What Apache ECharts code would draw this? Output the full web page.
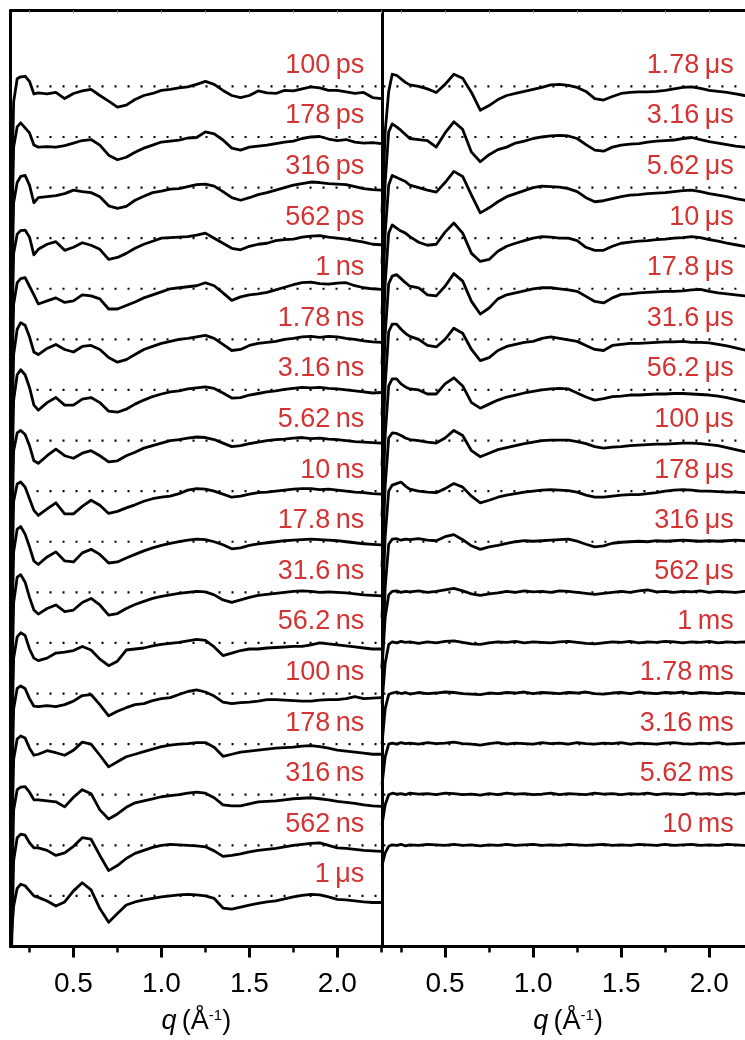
<!DOCTYPE html>
<html>
<head>
<meta charset="utf-8">
<script src="https://cdn.jsdelivr.net/npm/echarts@6/dist/echarts.min.js"></script>
<style>
  html, body { margin: 0; padding: 0; background: #fff; }
  #chart { width: 745px; height: 1040px; }
</style>
</head>
<body>
<div id="chart"></div>
<script>
// Scattering vector grid q (Å^-1) shared by every difference curve
const Q = [0.142, 0.16, 0.18, 0.20, 0.225, 0.25, 0.275,
  0.30, 0.35, 0.40, 0.45, 0.50, 0.55, 0.60, 0.65, 0.70, 0.75,
  0.80, 0.85, 0.90, 0.95, 1.00, 1.05, 1.10, 1.15, 1.20, 1.25,
  1.30, 1.35, 1.40, 1.45, 1.50, 1.55, 1.60, 1.65, 1.70, 1.75,
  1.80, 1.85, 1.90, 1.95, 2.00, 2.05, 2.10, 2.15, 2.20, 2.25];

// Time-delay labels, top to bottom
const LEFT_LABELS = ['100\u2009ps', '178\u2009ps', '316\u2009ps', '562\u2009ps', '1\u2009ns', '1.78\u2009ns',
  '3.16\u2009ns', '5.62\u2009ns', '10\u2009ns', '17.8\u2009ns', '31.6\u2009ns', '56.2\u2009ns', '100\u2009ns',
  '178\u2009ns', '316\u2009ns', '562\u2009ns', '1\u2009\u03bcs'];
const RIGHT_LABELS = ['1.78\u2009\u03bcs', '3.16\u2009\u03bcs', '5.62\u2009\u03bcs', '10\u2009\u03bcs', '17.8\u2009\u03bcs',
  '31.6\u2009\u03bcs', '56.2\u2009\u03bcs', '100\u2009\u03bcs', '178\u2009\u03bcs', '316\u2009\u03bcs', '562\u2009\u03bcs',
  '1\u2009ms', '1.78\u2009ms', '3.16\u2009ms', '5.62\u2009ms', '10\u2009ms'];

// Axis tick values
const MAJOR_TICKS = [0.5, 1.0, 1.5, 2.0];
const MINOR_TICKS = [0.25, 0.75, 1.25, 1.75, 2.25];
const TOP_TICKS = [0.25, 0.5, 0.75, 1.0, 1.25, 1.5, 1.75, 2.0, 2.25];

// Difference signals ΔS(q), in units of the vertical offset between curves
const dS_100ps = [-3.0, -0.3, 0.15, 0.19, 0.2, 0.1, -0.15,
  -0.13, -0.15, -0.12, -0.24, -0.14, -0.09, -0.06, -0.18, -0.29, -0.41,
  -0.37, -0.26, -0.18, -0.14, -0.08, -0.06, -0.03, -0.01, 0.04, 0.1,
  0.04, -0.08, -0.18, -0.22, -0.18, -0.09, -0.13, -0.14, -0.08, -0.09,
  -0.05, -0.01, -0.03, -0.08, -0.08, -0.11, -0.14, -0.12, -0.22, -0.24];
const dS_178ps = [-3.0, -0.2, 0.2, 0.28, 0.18, 0.08, -0.16,
  -0.2, -0.19, -0.2, -0.17, -0.12, -0.07, -0.05, -0.16, -0.36, -0.45,
  -0.4, -0.3, -0.22, -0.16, -0.1, -0.08, -0.06, -0.02, -0.01, 0.1,
  0.06, -0.06, -0.22, -0.26, -0.2, -0.18, -0.16, -0.13, -0.1, -0.08,
  -0.03, 0.0, 0.01, -0.04, -0.07, -0.05, -0.1, -0.12, -0.11, -0.13];
const dS_316ps = [-3.0, -0.3, 0.1, 0.22, 0.24, 0.05, -0.3,
  -0.2, -0.18, -0.16, -0.12, -0.05, -0.08, -0.1, -0.18, -0.36, -0.41,
  -0.37, -0.25, -0.17, -0.1, -0.07, -0.03, -0.02, 0.02, 0.06, 0.07,
  0.03, -0.08, -0.2, -0.25, -0.2, -0.14, -0.1, -0.05, 0.0, 0.05,
  0.08, 0.11, 0.1, 0.08, 0.07, 0.06, 0.02, -0.02, -0.04, -0.05];
const dS_562ps = [-3.0, -0.3, 0.08, 0.15, 0.16, 0.02, -0.33,
  -0.22, -0.12, -0.07, -0.24, -0.18, -0.09, -0.14, -0.22, -0.42, -0.38,
  -0.3, -0.2, -0.12, -0.06, 0.0, 0.01, 0.02, 0.03, 0.06, 0.1,
  0.0, -0.1, -0.2, -0.23, -0.16, -0.12, -0.1, -0.05, -0.03, -0.02,
  0.02, 0.04, 0.05, 0.02, 0.0, -0.02, -0.05, -0.08, -0.12, -0.13];
const dS_1ns = [-3.0, -0.3, 0.12, 0.2, 0.22, 0.05, -0.12,
  -0.3, -0.24, -0.18, -0.27, -0.24, -0.12, -0.14, -0.2, -0.4, -0.4,
  -0.33, -0.26, -0.18, -0.12, -0.06, 0.0, 0.02, 0.04, 0.06, 0.12,
  0.06, -0.08, -0.23, -0.16, -0.12, -0.1, -0.07, -0.02, 0.03, 0.08,
  0.12, 0.13, 0.1, 0.09, 0.11, 0.12, 0.06, 0.02, 0.0, -0.01];
const dS_1_78ns = [-3.0, -0.3, 0.2, 0.33, 0.28, 0.05, -0.25,
  -0.3, -0.18, -0.1, -0.2, -0.25, -0.14, -0.12, -0.2, -0.36, -0.45,
  -0.4, -0.3, -0.2, -0.14, -0.08, -0.04, 0.0, 0.02, 0.05, 0.08,
  0.02, -0.1, -0.22, -0.2, -0.12, -0.08, -0.06, -0.04, 0.0, 0.02,
  0.05, 0.06, 0.04, 0.06, 0.05, 0.02, 0.0, -0.03, -0.05, -0.06];
const dS_3_16ns = [-3.0, -0.2, 0.3, 0.4, 0.3, 0.05, -0.3,
  -0.4, -0.25, -0.15, -0.3, -0.3, -0.18, -0.15, -0.25, -0.42, -0.44,
  -0.38, -0.28, -0.2, -0.13, -0.08, -0.04, -0.02, 0.02, 0.04, 0.06,
  0.03, -0.06, -0.16, -0.15, -0.1, -0.07, -0.04, -0.02, 0.01, 0.03,
  0.05, 0.04, 0.05, 0.03, 0.02, 0.0, -0.02, -0.04, -0.06, -0.05];
const dS_5_62ns = [-3.0, -0.2, 0.15, 0.2, 0.12, -0.1, -0.4,
  -0.45, -0.3, -0.17, -0.3, -0.35, -0.25, -0.2, -0.3, -0.42, -0.4,
  -0.3, -0.23, -0.15, -0.1, -0.05, 0.0, 0.02, 0.05, 0.07, 0.06,
  0.02, -0.05, -0.12, -0.1, -0.06, -0.03, 0.0, 0.02, 0.03, 0.05,
  0.06, 0.04, 0.05, 0.03, 0.02, 0.0, -0.02, -0.03, -0.04, -0.05];
const dS_10ns = [-3.0, -0.2, 0.14, 0.18, 0.08, -0.15, -0.38,
  -0.48, -0.35, -0.23, -0.45, -0.45, -0.3, -0.18, -0.28, -0.44, -0.4,
  -0.33, -0.27, -0.2, -0.15, -0.12, -0.1, -0.05, 0.02, 0.05, 0.04,
  0.0, -0.06, -0.12, -0.1, -0.06, -0.03, -0.02, 0.0, 0.02, 0.04,
  0.05, 0.05, 0.03, 0.04, 0.02, 0.0, -0.02, -0.03, -0.05, -0.06];
const dS_17_8ns = [-3.0, -0.2, 0.25, 0.3, 0.15, -0.1, -0.38,
  -0.45, -0.3, -0.2, -0.38, -0.4, -0.22, -0.15, -0.25, -0.42, -0.4,
  -0.32, -0.25, -0.18, -0.12, -0.07, -0.03, 0.0, 0.03, 0.05, 0.04,
  0.0, -0.06, -0.14, -0.12, -0.07, -0.04, -0.02, 0.0, 0.02, 0.03,
  0.04, 0.05, 0.04, 0.03, 0.02, 0.0, -0.02, -0.04, -0.05, -0.06];
const dS_31_6ns = [-3.0, -0.2, 0.3, 0.35, 0.2, -0.1, -0.35,
  -0.43, -0.32, -0.25, -0.38, -0.35, -0.2, -0.12, -0.25, -0.45, -0.42,
  -0.32, -0.24, -0.18, -0.12, -0.08, -0.05, -0.02, 0.0, 0.02, 0.01,
  -0.05, -0.15, -0.2, -0.15, -0.1, -0.06, -0.04, -0.02, 0.0, 0.02,
  0.03, 0.02, 0.0, 0.01, 0.0, -0.01, -0.03, -0.05, -0.06, -0.07];
const dS_56_2ns = [-3.0, -0.3, 0.12, 0.2, 0.15, -0.12, -0.3,
  -0.35, -0.3, -0.2, -0.18, -0.15, -0.07, -0.14, -0.32, -0.45, -0.36,
  -0.14, -0.12, -0.1, -0.06, -0.03, -0.01, 0.01, 0.04, 0.07, 0.05,
  -0.08, -0.25, -0.2, -0.15, -0.12, -0.12, -0.1, -0.09, -0.08, -0.07,
  -0.07, -0.04, 0.0, -0.02, -0.04, -0.06, -0.08, -0.1, -0.12, -0.12];
const dS_100ns = [-3.0, -0.3, 0.1, 0.15, 0.1, -0.1, -0.25,
  -0.26, -0.24, -0.26, -0.22, -0.15, -0.04, -0.02, -0.22, -0.44, -0.35,
  -0.28, -0.22, -0.2, -0.14, -0.1, -0.08, -0.02, 0.04, 0.07, 0.03,
  -0.05, -0.17, -0.2, -0.18, -0.17, -0.15, -0.12, -0.12, -0.13, -0.14,
  -0.15, -0.15, -0.13, -0.12, -0.12, -0.1, -0.06, -0.1, -0.09, -0.08];
const dS_178ns = [-3.0, -0.3, 0.1, 0.16, 0.12, -0.08, -0.22,
  -0.2, -0.13, -0.17, -0.22, -0.12, 0.04, 0.0, -0.22, -0.45, -0.35,
  -0.25, -0.2, -0.15, -0.1, -0.05, -0.02, 0.0, 0.01, 0.03, 0.03,
  -0.06, -0.24, -0.2, -0.16, -0.14, -0.12, -0.1, -0.08, -0.07, -0.06,
  -0.04, -0.03, -0.05, -0.08, -0.12, -0.14, -0.16, -0.18, -0.2, -0.2];
const dS_316ns = [-3.0, -0.3, 0.1, 0.15, 0.16, 0.05, -0.1,
  -0.1, -0.12, -0.14, -0.24, -0.05, 0.1, 0.02, -0.3, -0.48, -0.38,
  -0.25, -0.16, -0.12, -0.08, -0.04, -0.02, 0.0, 0.03, 0.05, 0.03,
  -0.06, -0.2, -0.22, -0.22, -0.18, -0.14, -0.13, -0.12, -0.1, -0.08,
  -0.07, -0.06, -0.08, -0.1, -0.13, -0.15, -0.17, -0.2, -0.22, -0.23];
const dS_562ns = [-3.0, -0.3, 0.15, 0.22, 0.2, 0.05, -0.05,
  -0.05, -0.1, -0.2, -0.15, -0.02, 0.15, 0.12, -0.2, -0.5, -0.4,
  -0.26, -0.16, -0.1, -0.04, 0.0, 0.02, 0.01, 0.0, -0.01, -0.03,
  -0.11, -0.22, -0.2, -0.17, -0.13, -0.1, -0.08, -0.06, -0.03, 0.0,
  0.02, 0.04, 0.05, 0.0, -0.05, -0.06, -0.08, -0.1, -0.11, -0.12];
const dS_1us = [-1.0, -0.2, 0.15, 0.23, 0.2, 0.1, 0.0,
  -0.03, -0.1, -0.2, -0.12, 0.1, 0.26, 0.12, -0.25, -0.52, -0.35,
  -0.18, -0.12, -0.08, -0.05, -0.02, 0.0, 0.02, 0.03, 0.02, 0.0,
  -0.05, -0.24, -0.26, -0.22, -0.18, -0.15, -0.12, -0.1, -0.06, -0.02,
  0.01, 0.03, 0.02, -0.02, -0.07, -0.08, -0.1, -0.12, -0.13, -0.13];

const dS_1_78us = [-2.5, -0.9, -0.1, 0.24, 0.22, 0.15, 0.08,
  0.03, 0.0, -0.05, -0.12, 0.04, 0.24, 0.16, -0.12, -0.47, -0.38,
  -0.26, -0.18, -0.14, -0.1, -0.06, -0.02, 0.03, 0.04, 0.02, -0.02,
  -0.1, -0.24, -0.27, -0.2, -0.14, -0.12, -0.11, -0.11, -0.1, -0.08,
  -0.05, -0.02, -0.01, -0.04, -0.08, -0.1, -0.12, -0.15, -0.18, -0.2];
const dS_3_16us = [-2.5, -0.9, 0.1, 0.26, 0.2, 0.13, 0.05,
  -0.03, -0.05, -0.07, -0.2, 0.08, 0.3, 0.15, -0.3, -0.49, -0.35,
  -0.25, -0.2, -0.12, -0.08, -0.03, 0.0, 0.02, 0.03, 0.02, -0.03,
  -0.15, -0.26, -0.28, -0.2, -0.16, -0.14, -0.13, -0.1, -0.08, -0.07,
  -0.06, -0.03, -0.01, -0.05, -0.09, -0.12, -0.15, -0.18, -0.2, -0.21];
const dS_5_62us = [-2.5, -0.9, 0.05, 0.24, 0.2, 0.16, 0.12,
  0.05, 0.0, -0.05, -0.09, 0.1, 0.32, 0.22, -0.15, -0.5, -0.4,
  -0.28, -0.18, -0.12, -0.06, 0.0, 0.03, 0.02, 0.01, -0.02, -0.08,
  -0.2, -0.28, -0.26, -0.22, -0.18, -0.15, -0.14, -0.12, -0.11, -0.1,
  -0.08, -0.06, -0.05, -0.08, -0.12, -0.15, -0.18, -0.22, -0.25, -0.26];
const dS_10us = [-2.5, -0.9, 0.1, 0.26, 0.2, 0.14, 0.1,
  0.03, -0.08, -0.14, -0.12, 0.12, 0.3, 0.1, -0.3, -0.46, -0.42,
  -0.26, -0.16, -0.1, -0.05, 0.0, 0.03, 0.02, 0.0, 0.0, -0.05,
  -0.18, -0.24, -0.24, -0.16, -0.1, -0.08, -0.06, -0.05, -0.03, -0.02,
  0.0, 0.01, 0.03, 0.01, -0.03, -0.06, -0.1, -0.13, -0.16, -0.17];
const dS_17_8us = [-2.5, -0.9, 0.1, 0.25, 0.28, 0.2, 0.12,
  0.05, 0.02, -0.12, -0.14, 0.05, 0.3, 0.15, -0.25, -0.5, -0.38,
  -0.2, -0.12, -0.08, -0.04, 0.0, 0.02, 0.02, 0.0, -0.02, -0.05,
  -0.15, -0.25, -0.28, -0.18, -0.11, -0.1, -0.08, -0.07, -0.06, -0.05,
  -0.05, -0.04, -0.02, -0.01, -0.05, -0.08, -0.1, -0.12, -0.14, -0.15];
const dS_31_6us = [-2.5, -0.9, 0.15, 0.3, 0.3, 0.2, 0.12,
  0.06, 0.0, -0.12, -0.15, 0.0, 0.22, 0.12, -0.2, -0.42, -0.36,
  -0.22, -0.14, -0.1, -0.06, -0.04, 0.02, 0.05, 0.02, -0.01, -0.04,
  -0.12, -0.2, -0.22, -0.12, -0.1, -0.08, -0.08, -0.07, -0.06, -0.05,
  -0.05, -0.04, -0.06, -0.06, -0.07, -0.1, -0.13, -0.17, -0.21, -0.22];
const dS_56_2us = [-2.5, -0.9, 0.08, 0.22, 0.22, 0.12, 0.06,
  0.02, 0.0, -0.08, -0.08, 0.12, 0.24, 0.08, -0.25, -0.36, -0.28,
  -0.2, -0.14, -0.1, -0.06, -0.03, 0.0, 0.02, 0.03, 0.02, -0.06,
  -0.14, -0.2, -0.17, -0.13, -0.12, -0.1, -0.1, -0.09, -0.08, -0.08,
  -0.07, -0.07, -0.08, -0.09, -0.1, -0.12, -0.15, -0.19, -0.23, -0.24];
const dS_100us = [-2.5, -0.9, 0.05, 0.15, 0.14, 0.1, 0.05,
  0.02, 0.0, -0.03, -0.05, 0.05, 0.2, 0.1, -0.2, -0.32, -0.25,
  -0.18, -0.14, -0.1, -0.06, -0.03, 0.0, 0.01, 0.01, 0.01, -0.02,
  -0.06, -0.12, -0.15, -0.13, -0.12, -0.1, -0.09, -0.08, -0.07, -0.07,
  -0.06, -0.05, -0.05, -0.06, -0.08, -0.1, -0.14, -0.18, -0.22, -0.22];
const dS_178us = [-2.5, -0.9, 0.0, 0.12, 0.15, 0.18, 0.1,
  0.04, 0.0, -0.02, -0.03, 0.05, 0.15, 0.08, -0.1, -0.23, -0.18,
  -0.12, -0.08, -0.05, -0.02, 0.0, 0.02, 0.03, 0.02, 0.01, -0.02,
  -0.08, -0.12, -0.12, -0.1, -0.08, -0.07, -0.07, -0.05, -0.03, 0.0,
  0.02, 0.03, 0.02, 0.0, 0.0, -0.01, -0.02, -0.02, -0.03, -0.03];
const dS_316us = [-2.5, -0.9, -0.05, 0.05, 0.06, 0.03, 0.05,
  0.04, 0.06, 0.03, 0.02, 0.1, 0.14, 0.04, -0.08, -0.15, -0.1,
  -0.07, -0.03, 0.0, 0.02, 0.01, 0.02, 0.03, 0.04, 0.05, 0.01,
  -0.05, -0.1, -0.08, -0.03, -0.01, 0.0, 0.01, 0.0, 0.02, 0.01,
  0.02, 0.03, 0.02, 0.01, 0.02, 0.01, 0.02, 0.03, 0.02, 0.01];
const dS_562us = [-1.5, -0.5, -0.05, 0.02, 0.03, 0.0, 0.02,
  0.01, 0.03, 0.0, 0.02, 0.05, 0.08, 0.03, -0.03, -0.06, -0.03,
  -0.01, 0.02, 0.0, 0.03, 0.01, 0.02, 0.0, 0.03, 0.02, 0.0,
  -0.02, -0.04, -0.02, 0.0, 0.02, 0.0, 0.03, 0.05, 0.01, 0.02,
  0.0, 0.02, 0.01, 0.03, 0.0, 0.02, 0.01, 0.0, 0.02, 0.01];
const dS_1ms = [-1.2, -0.4, -0.03, 0.02, 0.0, 0.03, 0.01,
  0.02, -0.01, 0.02, 0.0, 0.03, 0.04, 0.01, -0.02, -0.03, 0.0,
  0.02, 0.01, 0.03, 0.0, 0.02, 0.01, 0.0, 0.02, 0.03, 0.01,
  -0.01, -0.02, 0.0, 0.02, 0.01, 0.03, 0.0, 0.02, 0.01, 0.03,
  0.02, 0.0, 0.02, 0.01, 0.03, 0.0, 0.02, 0.01, 0.02, 0.0];
const dS_1_78ms = [-1.0, -0.3, -0.02, 0.01, 0.03, 0.0, 0.02,
  -0.01, 0.02, 0.0, 0.01, 0.03, 0.02, 0.0, -0.01, -0.02, 0.01,
  0.0, 0.02, 0.01, 0.03, 0.0, 0.02, 0.01, 0.0, 0.02, 0.01,
  0.03, 0.0, -0.01, 0.01, 0.02, 0.0, 0.03, 0.01, 0.0, 0.02,
  0.01, 0.03, 0.0, 0.02, 0.01, 0.0, 0.02, 0.01, 0.0, 0.01];
const dS_3_16ms = [-0.8, -0.25, 0.0, 0.02, 0.0, 0.03, 0.01,
  0.02, 0.0, 0.03, 0.01, 0.02, 0.04, 0.01, 0.0, -0.02, 0.01,
  0.03, 0.0, 0.02, 0.01, 0.0, 0.03, 0.01, 0.02, 0.0, 0.03,
  0.01, 0.0, 0.02, 0.01, 0.03, 0.0, 0.02, 0.01, 0.0, 0.02,
  0.03, 0.01, 0.0, 0.02, 0.01, 0.03, 0.0, 0.01, 0.02, 0.0];
const dS_5_62ms = [-0.6, -0.2, 0.0, 0.03, 0.01, 0.02, 0.0,
  0.03, 0.01, 0.02, 0.0, 0.03, 0.02, 0.0, 0.01, -0.01, 0.02,
  0.0, 0.03, 0.01, 0.02, 0.0, 0.01, 0.03, 0.0, 0.02, 0.01,
  0.0, 0.03, 0.01, 0.02, 0.0, 0.02, 0.01, 0.03, 0.0, 0.02,
  0.01, 0.0, 0.03, 0.01, 0.02, 0.0, 0.02, 0.01, 0.03, 0.0];
const dS_10ms = [-0.4, -0.15, -0.02, 0.01, 0.0, 0.02, -0.01,
  0.01, 0.0, 0.02, 0.01, 0.0, 0.02, 0.0, 0.01, -0.01, 0.01,
  0.0, 0.02, 0.0, 0.01, 0.02, 0.0, 0.01, 0.0, 0.02, 0.01,
  0.0, 0.01, 0.02, 0.0, 0.01, 0.0, 0.02, 0.01, 0.0, 0.02,
  0.0, 0.01, 0.02, 0.0, 0.01, 0.0, 0.02, 0.01, 0.0, 0.01];

const LEFT_SIGNALS = [dS_100ps, dS_178ps, dS_316ps, dS_562ps, dS_1ns, dS_1_78ns, dS_3_16ns,
  dS_5_62ns, dS_10ns, dS_17_8ns, dS_31_6ns, dS_56_2ns, dS_100ns, dS_178ns, dS_316ns, dS_562ns, dS_1us];
const RIGHT_SIGNALS = [dS_1_78us, dS_3_16us, dS_5_62us, dS_10us, dS_17_8us, dS_31_6us, dS_56_2us,
  dS_100us, dS_178us, dS_316us, dS_562us, dS_1ms, dS_1_78ms, dS_3_16ms, dS_5_62ms, dS_10ms];

const FONT = '"Liberation Sans", Arial, Helvetica, sans-serif';
const RED = '#c80000';
const Q_MIN = 0.142, Q_MAX = 2.254;
const Y_MIN = -1, Y_MAX = 17.5;

// Each panel's top curve sits at offset 16, one unit per delay step
const offsetOf = i => 16 - i;

function curveSeries(signals, xIdx, yIdx) {
  return signals.map((vals, i) => ({
    type: 'line',
    xAxisIndex: xIdx, yAxisIndex: yIdx,
    data: Q.slice(0, vals.length).map((q, k) => [q, offsetOf(i) + vals[k]]),
    showSymbol: false, symbol: 'none',
    lineStyle: { color: '#000', width: 2.8, join: 'round' },
    silent: true, z: 4
  }));
}
function baselineSeries(count, qStart, xIdx, yIdx) {
  const out = [];
  for (let i = 0; i < count; i++) {
    out.push({
      type: 'line', xAxisIndex: xIdx, yAxisIndex: yIdx,
      data: [[qStart, offsetOf(i)], [Q_MAX, offsetOf(i)]],
      showSymbol: false, symbol: 'none',
      lineStyle: { color: '#000', width: 2.2, type: [2, 11] },
      silent: true, z: 2
    });
  }
  return out;
}
function labelSeries(labels, qRight, xIdx, yIdx) {
  return {
    type: 'scatter', xAxisIndex: xIdx, yAxisIndex: yIdx,
    symbolSize: 0.1, silent: true, z: 6,
    itemStyle: { color: 'rgba(0,0,0,0)' },
    data: labels.map((name, i) => ({ name, value: [qRight, offsetOf(i)] })),
    label: {
      show: true, formatter: '{b}', position: 'left', distance: 0,
      offset: [0, -21], color: RED, fontSize: 27, fontFamily: FONT
    }
  };
}

function panelAxesX(gridIndex) {
  return [
    {
      gridIndex, type: 'value', position: 'bottom', min: Q_MIN, max: Q_MAX,
      axisLine: { show: true, onZero: false, lineStyle: { color: '#000', width: 3 } },
      axisTick: { show: true, customValues: MAJOR_TICKS, length: 11, lineStyle: { color: '#000', width: 3 } },
      axisLabel: {
        show: true, customValues: MAJOR_TICKS, formatter: v => v.toFixed(1),
        fontSize: 28, fontFamily: FONT, color: '#000', margin: 24
      },
      splitLine: { show: false },
      name: '{i|q}{n|\u2009(\u00c5}{s|-1}{n|)}',
      nameLocation: 'middle', nameGap: 60,
      nameTextStyle: {
        rich: {
          i: { fontStyle: 'italic', fontSize: 27, fontFamily: FONT, color: '#000', lineHeight: 30 },
          n: { fontSize: 27, fontFamily: FONT, color: '#000', lineHeight: 30 },
          s: { fontSize: 15, fontFamily: FONT, color: '#000', verticalAlign: 'top', lineHeight: 18, padding: [2, 0, 0, 0] }
        }
      }
    },
    {
      gridIndex, type: 'value', position: 'bottom', min: Q_MIN, max: Q_MAX,
      axisLine: { show: false, onZero: false },
      axisTick: { show: true, customValues: MINOR_TICKS, length: 6, lineStyle: { color: '#000', width: 2.5 } },
      axisLabel: { show: false }, splitLine: { show: false }
    },
    {
      gridIndex, type: 'value', position: 'top', min: Q_MIN, max: Q_MAX,
      axisLine: { show: true, onZero: false, lineStyle: { color: '#000', width: 3 } },
      axisTick: { show: true, inside: true, customValues: TOP_TICKS, length: 3, lineStyle: { color: '#999', width: 1 } },
      axisLabel: { show: false }, splitLine: { show: false }
    }
  ];
}
function panelAxisY(gridIndex, position, width) {
  return {
    gridIndex, type: 'value', position, min: Y_MIN, max: Y_MAX,
    axisLine: { show: true, onZero: false, lineStyle: { color: '#000', width } },
    axisTick: { show: false }, axisLabel: { show: false }, splitLine: { show: false }
  };
}

const option = {
  backgroundColor: '#fff',
  animation: false,
  grid: [
    { left: 10.5, top: 10.5, width: 371.5, height: 936, outerBoundsMode: 'none', containLabel: false },
    { left: 382, top: 10.5, width: 372, height: 936, outerBoundsMode: 'none', containLabel: false }
  ],
  xAxis: [...panelAxesX(0), ...panelAxesX(1)],
  yAxis: [panelAxisY(0, 'left', 3), panelAxisY(0, 'right', 3), panelAxisY(1, 'left', 3)],
  series: [
    ...baselineSeries(LEFT_SIGNALS.length, 0.29, 0, 0),
    ...baselineSeries(RIGHT_SIGNALS.length, 0.15, 3, 2),
    ...curveSeries(LEFT_SIGNALS, 0, 0),
    ...curveSeries(RIGHT_SIGNALS, 3, 2),
    labelSeries(LEFT_LABELS, 2.153, 0, 0),
    labelSeries(RIGHT_LABELS, 2.139, 3, 2)
  ]
};

const chart = echarts.init(document.getElementById('chart'), null, { renderer: 'canvas' });
chart.setOption(option);
</script>
</body>
</html>
